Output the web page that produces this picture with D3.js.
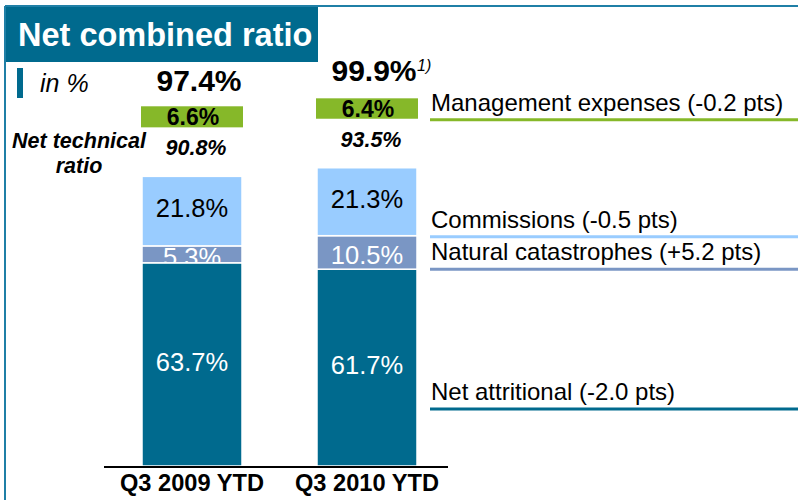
<!DOCTYPE html>
<meta charset="utf-8">
<script src="https://d3js.org/d3.v7.min.js"></script>
<style>
  body { margin: 0; background: #fff; }
  text { font-family: "Liberation Sans", Arial, sans-serif; }
</style>
<div id="chart"></div>
<script>

    // values
    var categories = ["Q3 2009 YTD", "Q3 2010 YTD"];
    var netAttritional = [63.7, 61.7];
    var natCat = [5.3, 10.5];
    var commissions = [21.8, 21.3];
    var mgmtExpenses = [6.6, 6.4];
    var netTechnical = [90.8, 93.5];
    var combinedRatio = [97.4, 99.9];
    var legendLabels = ["Management expenses (-0.2 pts)", "Commissions (-0.5 pts)",
                        "Natural catastrophes (+5.2 pts)", "Net attritional (-2.0 pts)"];

    var W = 798, H = 500;
    var teal = "#006a8e", lightBlue = "#99ccff", natBlue = "#7a96c4", green = "#86b829";

    var svg = d3.select("#chart").append("svg")
        .attr("width", W).attr("height", H);

    // frame and title box
    svg.append("line").attr("x1", 5).attr("x2", W).attr("y1", 6).attr("y2", 6)
        .attr("stroke", "#1f7fa6").attr("stroke-width", 2);
    svg.append("line").attr("x1", 5).attr("x2", 5).attr("y1", 6).attr("y2", H)
        .attr("stroke", "#1f7fa6").attr("stroke-width", 2);
    svg.append("rect").attr("x", 6).attr("y", 7).attr("width", 312).attr("height", 55).attr("fill", teal);
    svg.append("text").attr("x", 18).attr("y", 46).text("Net combined ratio")
        .style("font-size", "32.5px").style("font-weight", "bold").attr("fill", "#fff");
    svg.append("rect").attr("x", 17).attr("y", 68).attr("width", 6).attr("height", 30).attr("fill", teal);
    svg.append("text").attr("x", 40).attr("y", 92).text("in %")
        .style("font-size", "25px").style("font-style", "italic");

    // scales
    var x = d3.scaleBand().domain(categories).range([104.5, 454.5])
        .paddingInner(75 / 175).paddingOuter(0.2143);
    var y = d3.scaleLinear().domain([0, 100]).range([466, 147]);
    var gapAbove = 49;

    var rows = categories.map(function(c, i) {
        return { cat: c, att: netAttritional[i], nat: natCat[i], com: commissions[i] };
    });
    var keys = ["att", "nat", "com"];
    var colors = { att: teal, nat: natBlue, com: lightBlue };
    var labelColor = { att: "#fff", nat: "#fff", com: "#000" };
    var series = d3.stack().keys(keys)(rows);

    var defs = svg.append("defs");
    series.forEach(function(s) {
        s.forEach(function(d, i) {
            defs.append("clipPath").attr("id", "clip-" + s.key + i)
                .append("rect")
                .attr("x", x(categories[i])).attr("y", y(d[1]))
                .attr("width", x.bandwidth()).attr("height", y(d[0]) - y(d[1]));
        });
    });

    var layer = svg.selectAll("g.layer").data(series).enter().append("g").attr("class", "layer");
    layer.selectAll("rect").data(function(s) { return s; }).enter().append("rect")
        .attr("x", function(d) { return x(d.data.cat); })
        .attr("y", function(d) { return y(d[1]); })
        .attr("width", x.bandwidth())
        .attr("height", function(d) { return y(d[0]) - y(d[1]); })
        .attr("fill", function(d) { return colors[this.parentNode.__data__.key]; })
        .attr("stroke", "#fff").attr("stroke-width", 1.5);

    layer.each(function(s) {
        d3.select(this).selectAll("text").data(s).enter().append("text")
            .attr("clip-path", function(d, i) { return "url(#clip-" + s.key + i + ")"; })
            .attr("x", function(d) { return x(d.data.cat) + x.bandwidth() / 2; })
            .attr("y", function(d) { return (y(d[0]) + y(d[1])) / 2; })
            .attr("dy", s.key === "nat" ? "0.45em" : "0.25em")
            .attr("text-anchor", "middle")
            .style("font-size", "25.5px")
            .attr("fill", labelColor[s.key])
            .text(function(d) { return d.data[s.key].toFixed(1) + "%"; });
    });

    // management expenses block sits above the net technical ratio
    categories.forEach(function(c, i) {
        var top = y(netTechnical[i]);
        var gBottom = top - gapAbove;
        var gTop = gBottom - (y(0) - y(mgmtExpenses[i]));
        var cx = x(c) + x.bandwidth() / 2;
        svg.append("rect").attr("x", x(c) - 1).attr("y", gTop)
            .attr("width", x.bandwidth() + 2).attr("height", gBottom - gTop).attr("fill", green);
        svg.append("text").attr("x", cx + 1).attr("y", gBottom - 2).attr("text-anchor", "middle")
            .style("font-size", "23px").style("font-weight", "bold")
            .text(mgmtExpenses[i].toFixed(1) + "%");
        svg.append("text").attr("x", cx + 4).attr("y", gBottom + 28).attr("text-anchor", "middle")
            .style("font-size", "21.5px").style("font-weight", "bold").style("font-style", "italic")
            .text(netTechnical[i].toFixed(1) + "%");
        svg.append("text").attr("x", cx + 7).attr("y", gTop - 15 - 2 * i).attr("text-anchor", "middle")
            .style("font-size", "30px").style("font-weight", "bold")
            .text(combinedRatio[i].toFixed(1) + "%");
        if (i === 1) {
            svg.append("text").attr("x", cx + 50).attr("y", gTop - 27)
                .style("font-size", "16px").style("font-style", "italic").text("1)");
        }
    });

    svg.append("text").attr("x", 79).attr("y", 148).attr("text-anchor", "middle")
        .style("font-size", "21.5px").style("font-weight", "bold").style("font-style", "italic")
        .text("Net technical");
    svg.append("text").attr("x", 79).attr("y", 173).attr("text-anchor", "middle")
        .style("font-size", "21.5px").style("font-weight", "bold").style("font-style", "italic")
        .text("ratio");

    // baseline and category labels
    var xAxis = svg.append("g").attr("transform", "translate(0," + y(0) + ")")
        .call(d3.axisBottom(x).tickSize(0));
    xAxis.select(".domain").remove();
    xAxis.selectAll("text")
        .attr("y", 25).attr("dy", 0)
        .style("font-family", "'Liberation Sans', Arial, sans-serif")
        .style("font-size", "23px").style("font-weight", "bold").attr("fill", "#000")
        .attr("textLength", 144).attr("lengthAdjust", "spacingAndGlyphs");
    svg.append("line").attr("x1", 104).attr("x2", 448).attr("y1", y(0) + 1).attr("y2", y(0) + 1)
        .attr("stroke", "#000").attr("stroke-width", 2);

    // legend lines at the right
    var i2 = 1;
    var legendLines = [
        { text: legendLabels[0], color: green, ly: y(netTechnical[i2]) - gapAbove + 1 },
        { text: legendLabels[1], color: lightBlue, ly: y(netAttritional[i2] + natCat[i2]) + 1 },
        { text: legendLabels[2], color: natBlue, ly: y(netAttritional[i2]) },
        { text: legendLabels[3], color: teal, ly: 409 }
    ];
    legendLines.forEach(function(d) {
        svg.append("line").attr("x1", 430).attr("x2", W).attr("y1", d.ly).attr("y2", d.ly)
            .attr("stroke", d.color).attr("stroke-width", 3);
        svg.append("text").attr("x", 431).attr("y", d.ly - 9).text(d.text)
            .style("font-size", "24px");
    });

</script>
